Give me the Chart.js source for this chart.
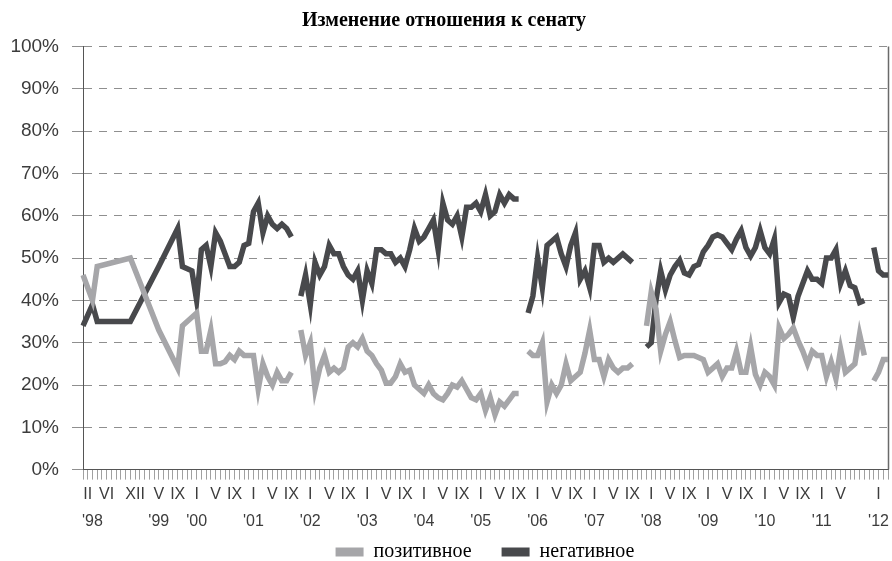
<!DOCTYPE html>
<html>
<head>
<meta charset="utf-8">
<script src="https://cdn.jsdelivr.net/npm/chart.js@4.4.1/dist/chart.umd.min.js"></script>
<style>
  html, body { margin: 0; padding: 0; background: #fff; }
</style>
</head>
<body>
<canvas id="senateChart" width="892" height="561"></canvas>
<script>
// monthly categories, Jan 1998 .. Mar 2012
const startYear = 1998;
const monthCount = 171;
const romanMonths = ['I', 'II', 'III', 'IV', 'V', 'VI', 'VII', 'VIII', 'IX', 'X', 'XI', 'XII'];
const categories = Array.from({ length: monthCount }, (_, i) => {
  const y = startYear + Math.floor(i / 12);
  const m = (i % 12) + 1;
  return `${y}-${String(m).padStart(2, '0')}`;
});

// months that get a roman numeral under the axis
const labelledMonths = [
  '1998-02', '1998-06', '1998-12', '1999-05', '1999-09',
  '2000-01', '2000-05', '2000-09', '2001-01', '2001-05', '2001-09',
  '2002-01', '2002-05', '2002-09', '2003-01', '2003-05', '2003-09',
  '2004-01', '2004-05', '2004-09', '2005-01', '2005-05', '2005-09',
  '2006-01', '2006-05', '2006-09', '2007-01', '2007-05', '2007-09',
  '2008-01', '2008-05', '2008-09', '2009-01', '2009-05', '2009-09',
  '2010-01', '2010-05', '2010-09', '2011-01', '2011-05', '2012-01',
];

// year captions (second line of the axis labels)
const yearTicks = {
  '1998-03': "'98", '1999-05': "'99", '2000-01': "'00", '2001-01': "'01",
  '2002-01': "'02", '2003-01': "'03", '2004-01': "'04", '2005-01': "'05",
  '2006-01': "'06", '2007-01': "'07", '2008-01': "'08", '2009-01': "'09",
  '2010-01': "'10", '2011-01': "'11", '2012-01': "'12",
};

// first month of each new survey wave: no line is drawn into it
const waveStarts = ['2001-11', '2005-11', '2007-12', '2011-12'];

// % positive, one row per year (Jan..Dec)
const positive = [
  46, null, 40, 48, null, null, null, null, null, null, 50, null,
  null, null, null, null, 33, null, null, null, 24, 34, null, 36,
  37, 28, 28, 33, 25, 25, 25.5, 27, 26, 28, 27, 27,
  27, 19, 25, 22, 20, 23, 21, 21, 23, null, 33, 27,
  30, 19, 24, 27, 23, 24, 23, 24, 29, 30, 29, 31,
  28, 27, 25, 23.5, 20.5, 20.5, 22, 25, 23, 23.5, 20, 19,
  18, 20, 18, 17, 16.5, 18, 20, 19.5, 21, 19, 17, 16.5,
  18, 14, 17, 13, 16, 15, 16.5, 18, 18, null, 28, 27,
  27, 30, 16, 20, 18, 20, 25, 21, 22, 23, 27.5, 33,
  26, 26, 22, 26, 24, 23, 24, 24, 25, null, null, 34,
  42, 38, 28, 32, 35, 30.5, 26.5, 27, 27, 27, 26.5, 26,
  23, 24, 25, 22, 24, 24, 28, 23, 23, 29, 22.5, 20,
  23, 22, 20, 33.5, 31, 32, 33.5, 30.5, 28, 25, 28, 27,
  27, 22, 25.5, 21.5, 28.5, 23, 24, 25, 32, 27, null, 21,
  23, 26, 26,
];

// % negative
const negative = [
  34, null, 39, 35, null, null, null, null, null, null, 35, null,
  null, null, null, null, 48, null, null, null, 57, 48, null, 47,
  40, 52, 53, 48, 56, 54, 51, 48, 48, 49, 53, 53.5,
  61, 63, 56, 60, 58, 57, 58, 57, 55, null, 41, 46,
  39, 49, 46, 48, 53, 51, 51, 48, 46, 45, 47, 40,
  47, 44, 52, 52, 51, 51, 49, 50, 48, 52, 57, 54,
  55, 57, 59, 52, 63, 59, 58, 60, 55, 62, 62, 63,
  61, 65, 60, 61, 65, 63, 65, 64, 64, null, 37, 41,
  50, 43, 53, 54, 55, 51, 48, 53, 56, 45, 47, 43,
  53, 53, 49, 50, 49, 50, 51, 50, 49, null, null, 29,
  30, 40, 47, 42.5, 46, 48, 49.5, 46.5, 46, 48, 48.5, 51.5,
  53, 55, 55.5, 55, 53.5, 52, 54.5, 56.5, 52.5, 50.5, 52.5, 56.5,
  52.5, 51, 54.5, 39.5, 41.5, 41, 36, 41, 44, 47, 45, 45,
  44, 50, 50, 52, 44, 47, 43.5, 43, 39.5, 40, null, 52.5,
  47, 46, 46,
];

const seriesNames = ['позитивное', 'негативное'];
const seriesColors = ['#a6a6a9', '#48494c'];

// hide the connecting stroke across a survey pause
const hideBreaks = (ctx) =>
  waveStarts.includes(categories[ctx.p1DataIndex]) ? 'rgba(0,0,0,0)' : undefined;

// draw the right edge of the plot area
const plotFrame = {
  id: 'plotFrame',
  beforeDatasetsDraw(chart) {
    const { ctx, chartArea } = chart;
    ctx.save();
    ctx.strokeStyle = '#6a6a6a';
    ctx.lineWidth = 1.5;
    ctx.beginPath();
    ctx.moveTo(chartArea.right + 0.5, chartArea.top);
    ctx.lineTo(chartArea.right + 0.5, chartArea.bottom);
    ctx.stroke();
    ctx.restore();
  },
};

// move the legend down and a bit right, like in the original
const legendNudge = {
  id: 'legendNudge',
  afterLayout(chart) {
    const lg = chart.legend;
    lg.top -= 27;
    lg.left += 41;
    lg.right += 41;
  },
};

const canvas = document.getElementById('senateChart');

new Chart(canvas, {
  type: 'line',
  data: {
    labels: categories,
    datasets: [
      {
        label: seriesNames[0],
        data: positive,
        borderColor: seriesColors[0],
        backgroundColor: seriesColors[0],
        borderWidth: 5.5,
        pointRadius: 0,
        spanGaps: true,
        segment: { borderColor: hideBreaks },
      },
      {
        label: seriesNames[1],
        data: negative,
        borderColor: seriesColors[1],
        backgroundColor: seriesColors[1],
        borderWidth: 5.5,
        pointRadius: 0,
        spanGaps: true,
        segment: { borderColor: hideBreaks },
      },
    ],
  },
  options: {
    responsive: false,
    animation: false,
    layout: { padding: { left: 0, right: 4, top: 0, bottom: 0 } },
    scales: {
      x: {
        type: 'category',
        offset: false,
        grid: {
          drawOnChartArea: false,
          drawTicks: true,
          tickLength: 10,
          tickColor: '#a0a0a0',
          tickWidth: 1,
        },
        border: { display: true, color: '#555555', width: 1 },
        ticks: {
          autoSkip: false,
          maxRotation: 0,
          minRotation: 0,
          padding: 2,
          color: '#3c3c3c',
          font: { family: 'Liberation Sans', size: 16, lineHeight: 1.65 },
          callback: (value, index) => {
            const key = categories[index];
            const roman = labelledMonths.includes(key) ? romanMonths[Number(key.slice(5)) - 1] : '';
            const year = yearTicks[key];
            return year ? [roman, year] : roman;
          },
        },
        afterFit: (scale) => { scale.height = 69.4; },
      },
      y: {
        min: 0,
        max: 100,
        grid: {
          color: (ctx) => (ctx.tick && ctx.tick.value === 0 ? 'rgba(0,0,0,0)' : '#8f8f8f'),
          lineWidth: 1,
          drawTicks: true,
          tickLength: 11,
          tickColor: '#8f8f8f',
        },
        border: { display: true, color: '#555555', width: 1, dash: [8, 7] },
        ticks: {
          stepSize: 10,
          padding: 13,
          color: '#3c3c3c',
          font: { family: 'Liberation Sans', size: 19 },
          callback: (v) => v + '%',
        },
        afterFit: (scale) => { scale.width = 83; },
      },
    },
    plugins: {
      title: {
        display: true,
        text: 'Изменение отношения к сенату',
        color: '#000',
        font: { family: 'Liberation Serif', size: 20, weight: 'bold' },
        padding: { top: 9, bottom: 13.6 },
      },
      legend: {
        position: 'bottom',
        maxHeight: 22,
        labels: {
          boxWidth: 28,
          boxHeight: 9,
          padding: 30,
          color: '#000',
          font: { family: 'Liberation Serif', size: 20 },
          generateLabels: (chart) =>
            Chart.defaults.plugins.legend.labels.generateLabels(chart).map((item) => ({ ...item, lineWidth: 0 })),
        },
      },
      tooltip: { enabled: false },
    },
  },
  plugins: [plotFrame, legendNudge],
});
</script>
</body>
</html>
